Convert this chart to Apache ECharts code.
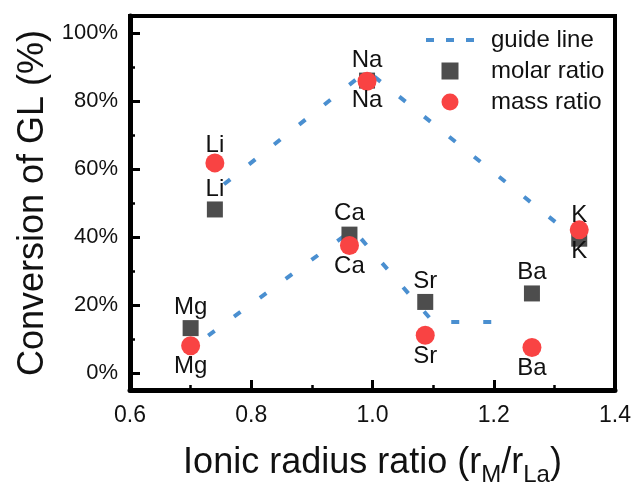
<!DOCTYPE html>
<html>
<head>
<meta charset="utf-8">
<script src="https://cdn.jsdelivr.net/npm/echarts@6/dist/echarts.min.js"></script>
<style>
  html, body { margin: 0; padding: 0; background: #fff; }
  #chart { width: 635px; height: 484px; }
</style>
</head>
<body>
<div id="chart"></div>
<script>
// Conversion of GL for each metal dopant vs. ionic radius ratio r_M / r_La
const elements        = ['Li', 'Na', 'K', 'Mg', 'Ca', 'Sr', 'Ba'];
const radiusRatio     = [0.740, 0.991, 1.341, 0.700, 0.962, 1.087, 1.263];
const molarConversion = [48.1, 86.0, 39.5, 13.2, 40.7, 20.9, 23.4];
const massConversion  = [61.8, 85.8, 42.1, 8.0, 37.5, 11.1, 7.5];

// Guide lines: alkali branch (upper) and alkaline-earth branch (lower)
const guideUpperX = [0.755, 0.991, 1.329];
const guideUpperY = [55.5, 88.9, 40.5];
const guideLowerX = [0.729, 0.968, 1.100, 1.230];
const guideLowerY = [11.0, 42.2, 15.0, 15.0];

// Axis ticks
const yMajorTicks = [0, 20, 40, 60, 80, 100];
const yMinorTicks = [10, 30, 50, 70, 90];

// Vertical shift (px) of each element tag from its marker
const molarTagShift = [-20, -20, 13, -21, -21, -21, -21];
const massTagShift  = [-18, 19, -14, 21, 21, 21, 21];

const FONT = '"Liberation Sans", Arial, sans-serif';
const INK = '#111';
const GUIDE_COLOR = '#4a8fd0';
// legend swatches: three short dashes for the guide line, a true square for molar ratio
const DASH_ICON = 'path://M0,0H8V4H0Z M20,0H28V4H20Z M40,0H48V4H40Z';
const SQUARE_ICON = 'path://M0,0H10V10H0Z';

function pairs(xs, ys) { return xs.map((x, i) => [x, ys[i]]); }

function tagged(values, shifts) {
  return values.map((v, i) => ({
    value: [radiusRatio[i], v],
    name: elements[i],
    label: { offset: [0, shifts[i]] }
  }));
}

const tagLabel = {
  show: true,
  position: 'inside',
  formatter: p => p.name,
  color: INK,
  fontSize: 24,
  fontFamily: FONT
};

const guideStyle = { color: GUIDE_COLOR, width: 4, type: [8, 24], cap: 'butt' };

const chart = echarts.init(document.getElementById('chart'), null, { renderer: 'canvas' });

chart.setOption({
  animation: false,
  backgroundColor: '#fff',
  grid: {
    left: 130, right: 20, top: 16, bottom: 94,
    show: true, borderColor: '#000', borderWidth: 4,
    containLabel: false,
    outerBoundsMode: 'none'
  },
  legend: {
    orient: 'vertical',
    left: 421, top: 23,
    itemWidth: 48, itemHeight: 17, itemGap: 7,
    symbolKeepAspect: true,
    textStyle: { fontSize: 24, color: INK, fontFamily: FONT, padding: [0, 0, 0, 12] },
    data: [
      { name: 'guide line', icon: DASH_ICON, itemStyle: { color: GUIDE_COLOR, borderWidth: 0 } },
      { name: 'molar ratio', icon: SQUARE_ICON, itemStyle: { borderWidth: 0 } },
      { name: 'mass ratio', icon: 'circle', itemStyle: { borderWidth: 0 } }
    ]
  },
  xAxis: {
    type: 'value',
    min: 0.6, max: 1.4, interval: 0.2,
    axisLine: { onZero: false, lineStyle: { color: '#000', width: 5 } },
    axisTick: { inside: true, length: 10, lineStyle: { color: '#000', width: 3 } },
    minorTick: { show: true, splitNumber: 2, length: 5, lineStyle: { color: '#000', width: 2.5 } },
    splitLine: { show: false },
    minorSplitLine: { show: false },
    axisLabel: {
      formatter: v => v.toFixed(1),
      fontSize: 23, color: INK, fontFamily: FONT, margin: 14
    },
    name: '{n|Ionic radius ratio (r}{s|M}{n|/r}{s|La}{n|)}',
    nameLocation: 'middle',
    nameGap: 55,
    nameTextStyle: {
      rich: {
        n: { fontSize: 36, fontFamily: FONT, color: INK, verticalAlign: 'bottom', padding: [0, 0, 6, 0] },
        s: { fontSize: 24, fontFamily: FONT, color: INK, verticalAlign: 'bottom' }
      }
    }
  },
  yAxis: [
    {
      type: 'value',
      min: -5, max: 105,
      axisLine: { onZero: false, lineStyle: { color: '#000', width: 5 } },
      axisTick: { inside: true, length: 10, customValues: yMajorTicks, lineStyle: { color: '#000', width: 3 } },
      axisLabel: {
        customValues: yMajorTicks,
        formatter: v => v + '%',
        fontSize: 22, color: INK, fontFamily: FONT, margin: 12
      },
      splitLine: { show: false },
      name: 'Conversion of GL (%)',
      nameLocation: 'middle',
      nameGap: 75,
      nameTextStyle: { fontSize: 36, color: INK, fontFamily: FONT }
    },
    {
      type: 'value',
      min: -5, max: 105,
      position: 'left',
      axisLine: { show: false },
      axisTick: { inside: true, length: 5, customValues: yMinorTicks, lineStyle: { color: '#000', width: 2.5 } },
      axisLabel: { show: false },
      splitLine: { show: false }
    }
  ],
  series: [
    {
      name: 'guide line', type: 'line', yAxisIndex: 0,
      data: pairs(guideUpperX, guideUpperY),
      symbol: 'none', lineStyle: guideStyle, itemStyle: { color: GUIDE_COLOR },
      z: 1, silent: true
    },
    {
      name: 'guide line', type: 'line', yAxisIndex: 0,
      data: pairs(guideLowerX, guideLowerY),
      symbol: 'none', lineStyle: guideStyle, itemStyle: { color: GUIDE_COLOR },
      z: 1, silent: true
    },
    {
      name: 'molar ratio', type: 'scatter', yAxisIndex: 0,
      symbol: 'rect', symbolSize: 16,
      itemStyle: { color: '#4d4d4d', opacity: 1 },
      label: tagLabel,
      data: tagged(molarConversion, molarTagShift),
      z: 2
    },
    {
      name: 'mass ratio', type: 'scatter', yAxisIndex: 0,
      symbol: 'circle', symbolSize: 19,
      itemStyle: { color: '#f94343', opacity: 1 },
      label: tagLabel,
      data: tagged(massConversion, massTagShift),
      z: 3
    }
  ]
});
</script>
</body>
</html>
